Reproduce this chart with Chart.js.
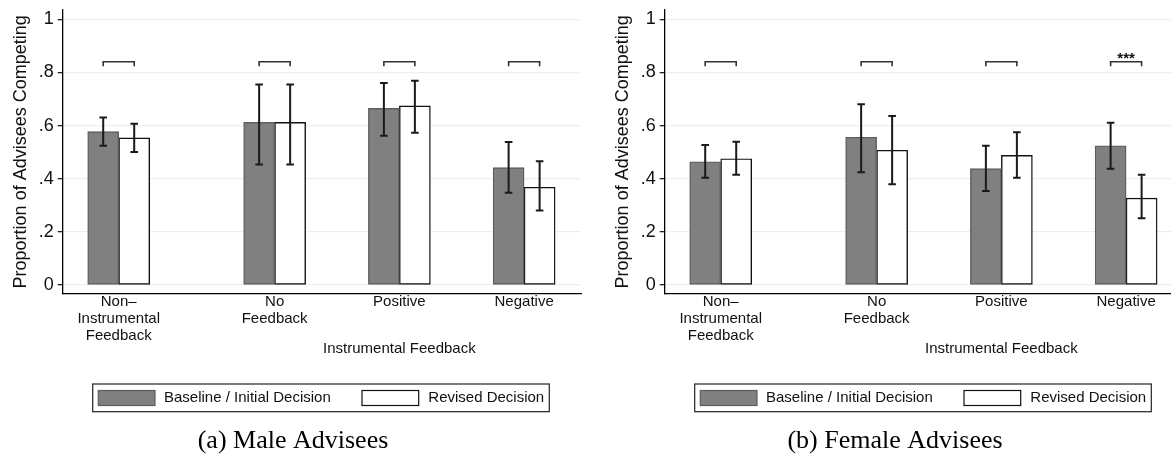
<!DOCTYPE html>
<html>
<head>
<meta charset="utf-8">
<script src="https://cdn.jsdelivr.net/npm/chart.js@4.4.1/dist/chart.umd.min.js"></script>
<style>
  html, body { margin:0; padding:0; background:#fff; width:1171px; height:467px; overflow:hidden; }
  canvas { position:absolute; top:0; }
  #cA { left:0; }
  #cB { left:602px; }
</style>
</head>
<body>
<canvas id="cA" width="585" height="467"></canvas>
<canvas id="cB" width="585" height="467"></canvas>
<script>
// ---- data ----
const categories = [['Non\u2013', 'Instrumental', 'Feedback'], ['No', 'Feedback'], ['Positive'], ['Negative']];
const categoryPositions = [0, 1.25, 2.25, 3.25];
const yTickValues = [0, 0.2, 0.4, 0.6, 0.8, 1];
const yTickLabels = ['0', '.2', '.4', '.6', '.8', '1'];
const seriesNames = ['Baseline / Initial Decision', 'Revised Decision'];
const groupTitle = 'Instrumental Feedback';
const yTitle = 'Proportion of Advisees Competing';
const captions = ['(a) Male Advisees', '(b) Female Advisees'];

const maleBaseline   = [0.577, 0.612, 0.665, 0.442];
const maleBaselineLo = [0.524, 0.454, 0.562, 0.347];
const maleBaselineHi = [0.630, 0.755, 0.760, 0.538];
const maleRevised    = [0.554, 0.612, 0.674, 0.368];
const maleRevisedLo  = [0.501, 0.454, 0.573, 0.280];
const maleRevisedHi  = [0.607, 0.755, 0.769, 0.466];
const maleSignif     = ['', '', '', ''];

const femaleBaseline   = [0.464, 0.556, 0.438, 0.524];
const femaleBaselineLo = [0.404, 0.424, 0.354, 0.438];
const femaleBaselineHi = [0.527, 0.680, 0.524, 0.611];
const femaleRevised    = [0.475, 0.507, 0.488, 0.327];
const femaleRevisedLo  = [0.415, 0.379, 0.404, 0.251];
const femaleRevisedHi  = [0.539, 0.636, 0.575, 0.415];
const femaleSignif     = ['', '', '', '***'];

const bracketTop = 0.840;
const bracketLeg = 0.823;

// ---- drawing ----
const SANS = '"Liberation Sans", Arial, Helvetica, sans-serif';
const SERIF = '"Liberation Serif", "Times New Roman", serif';

const extrasPlugin = {
  id: 'extras',
  afterDatasetsDraw(chart) {
    const ctx = chart.ctx;
    const ys = chart.scales.y;
    const ds = chart.data.datasets;
    ctx.save();
    // error bars
    ds.forEach((d, i) => {
      const meta = chart.getDatasetMeta(i);
      meta.data.forEach((el, j) => {
        const x = el.x;
        const y1 = ys.getPixelForValue(d.lo[j]);
        const y2 = ys.getPixelForValue(d.hi[j]);
        ctx.strokeStyle = '#1a1a1a';
        ctx.lineWidth = 2;
        ctx.beginPath();
        ctx.moveTo(x, y1); ctx.lineTo(x, y2);
        ctx.moveTo(x - 3.8, y1); ctx.lineTo(x + 3.8, y1);
        ctx.moveTo(x - 3.8, y2); ctx.lineTo(x + 3.8, y2);
        ctx.stroke();
      });
    });
    // brackets
    const m0 = chart.getDatasetMeta(0), m1 = chart.getDatasetMeta(1);
    const sig = chart.options.plugins.extras.signif;
    m0.data.forEach((el, j) => {
      const xa = el.x, xb = m1.data[j].x;
      const yt = ys.getPixelForValue(bracketTop);
      const yl = ys.getPixelForValue(bracketLeg);
      ctx.strokeStyle = '#333';
      ctx.lineWidth = 1.6;
      ctx.beginPath();
      ctx.moveTo(xa, yl); ctx.lineTo(xa, yt); ctx.lineTo(xb, yt); ctx.lineTo(xb, yl);
      ctx.stroke();
      if (sig[j]) {
        ctx.fillStyle = '#111';
        ctx.font = 'bold 15px ' + SANS;
        ctx.textAlign = 'center';
        ctx.textBaseline = 'alphabetic';
        ctx.fillText(sig[j], (xa + xb) / 2, yt + 1);
      }
    });
    ctx.restore();
  },
  afterDraw(chart) {
    const ctx = chart.ctx;
    const xs = chart.scales.x;
    const ds = chart.data.datasets;
    const opts = chart.options.plugins.extras;
    ctx.save();
    // group title
    ctx.fillStyle = '#111';
    ctx.font = '15px ' + SANS;
    ctx.textAlign = 'center';
    ctx.textBaseline = 'middle';
    ctx.fillText(groupTitle, xs.getPixelForValue(categoryPositions[2]), chart.chartArea.bottom + 55);
    // legend
    const L = 92.7, T = 384, W = 456.6, H = 27.7;
    ctx.fillStyle = '#fff';
    ctx.fillRect(L, T, W, H);
    ctx.strokeStyle = '#222';
    ctx.lineWidth = 1.2;
    ctx.strokeRect(L, T, W, H);
    const sw = [[98.3, 164], [362, 428.3]];
    ds.forEach((d, i) => {
      ctx.fillStyle = d.backgroundColor;
      ctx.fillRect(sw[i][0], 390.5, 56.7, 15);
      ctx.strokeStyle = d.borderColor;
      ctx.lineWidth = 1.2;
      ctx.strokeRect(sw[i][0], 390.5, 56.7, 15);
      ctx.fillStyle = '#111';
      ctx.font = '15px ' + SANS;
      ctx.textAlign = 'left';
      ctx.textBaseline = 'middle';
      ctx.fillText(d.label, sw[i][1], 398.3);
    });
    // caption
    ctx.fillStyle = '#000';
    ctx.font = '26px ' + SERIF;
    ctx.textAlign = 'center';
    ctx.textBaseline = 'middle';
    ctx.fillText(opts.caption, 293, 441);
    ctx.restore();
  }
};

function makePanel(id, base, baseLo, baseHi, rev, revLo, revHi, signif, caption) {
  const ctx = document.getElementById(id).getContext('2d');
  return new Chart(ctx, {
    type: 'bar',
    data: {
      datasets: [
        {
          label: seriesNames[0],
          data: categoryPositions.map((p, i) => ({ x: p, y: base[i] })),
          lo: baseLo, hi: baseHi,
          backgroundColor: '#808080',
          borderColor: '#5e5e5e',
          borderWidth: 1.4,
          borderSkipped: false,
          barThickness: 31
        },
        {
          label: seriesNames[1],
          data: categoryPositions.map((p, i) => ({ x: p, y: rev[i] })),
          lo: revLo, hi: revHi,
          backgroundColor: '#ffffff',
          borderColor: '#111111',
          borderWidth: 1.4,
          borderSkipped: false,
          barThickness: 31
        }
      ]
    },
    options: {
      responsive: false,
      animation: false,
      events: [],
      layout: { padding: { top: 10, right: 4, left: 0, bottom: 0 } },
      scales: {
        x: {
          type: 'linear',
          min: -0.449,
          max: 3.706,
          offset: false,
          grid: { display: false, drawTicks: false, offset: false },
          border: { display: true, color: '#000', width: 1.3 },
          afterBuildTicks: s => { s.ticks = categoryPositions.map(v => ({ value: v })); },
          ticks: {
            autoSkip: false,
            maxRotation: 0,
            minRotation: 0,
            padding: 0,
            color: '#111',
            font: { family: SANS, size: 15, lineHeight: 1.13 },
            callback: (v, i) => categories[i]
          },
          afterFit: s => { s.height = 173.3; s.paddingLeft = 0; s.paddingRight = 0; }
        },
        y: {
          min: -0.0327,
          max: 1.035,
          afterBuildTicks: s => { s.ticks = yTickValues.map(v => ({ value: v })); },
          ticks: {
            padding: 4,
            color: '#111',
            font: { family: SANS, size: 18 },
            callback: (v, i) => yTickLabels[i]
          },
          grid: { color: '#e8f0f1', lineWidth: 1.3, tickColor: '#222', tickLength: 5, drawTicks: true },
          border: { display: true, color: '#000', width: 1.3 },
          title: {
            display: true,
            text: yTitle,
            color: '#111',
            font: { family: SANS, size: 18, lineHeight: 1.2 },
            padding: { top: 10, bottom: 0 }
          },
          afterFit: s => { s.width = 62.7; s.paddingTop = 0; s.paddingBottom = 0; }
        }
      },
      plugins: {
        legend: { display: false },
        tooltip: { enabled: false },
        extras: { signif: signif, caption: caption }
      }
    },
    plugins: [extrasPlugin]
  });
}

makePanel('cA', maleBaseline, maleBaselineLo, maleBaselineHi, maleRevised, maleRevisedLo, maleRevisedHi, maleSignif, captions[0]);
makePanel('cB', femaleBaseline, femaleBaselineLo, femaleBaselineHi, femaleRevised, femaleRevisedLo, femaleRevisedHi, femaleSignif, captions[1]);
</script>
</body>
</html>
